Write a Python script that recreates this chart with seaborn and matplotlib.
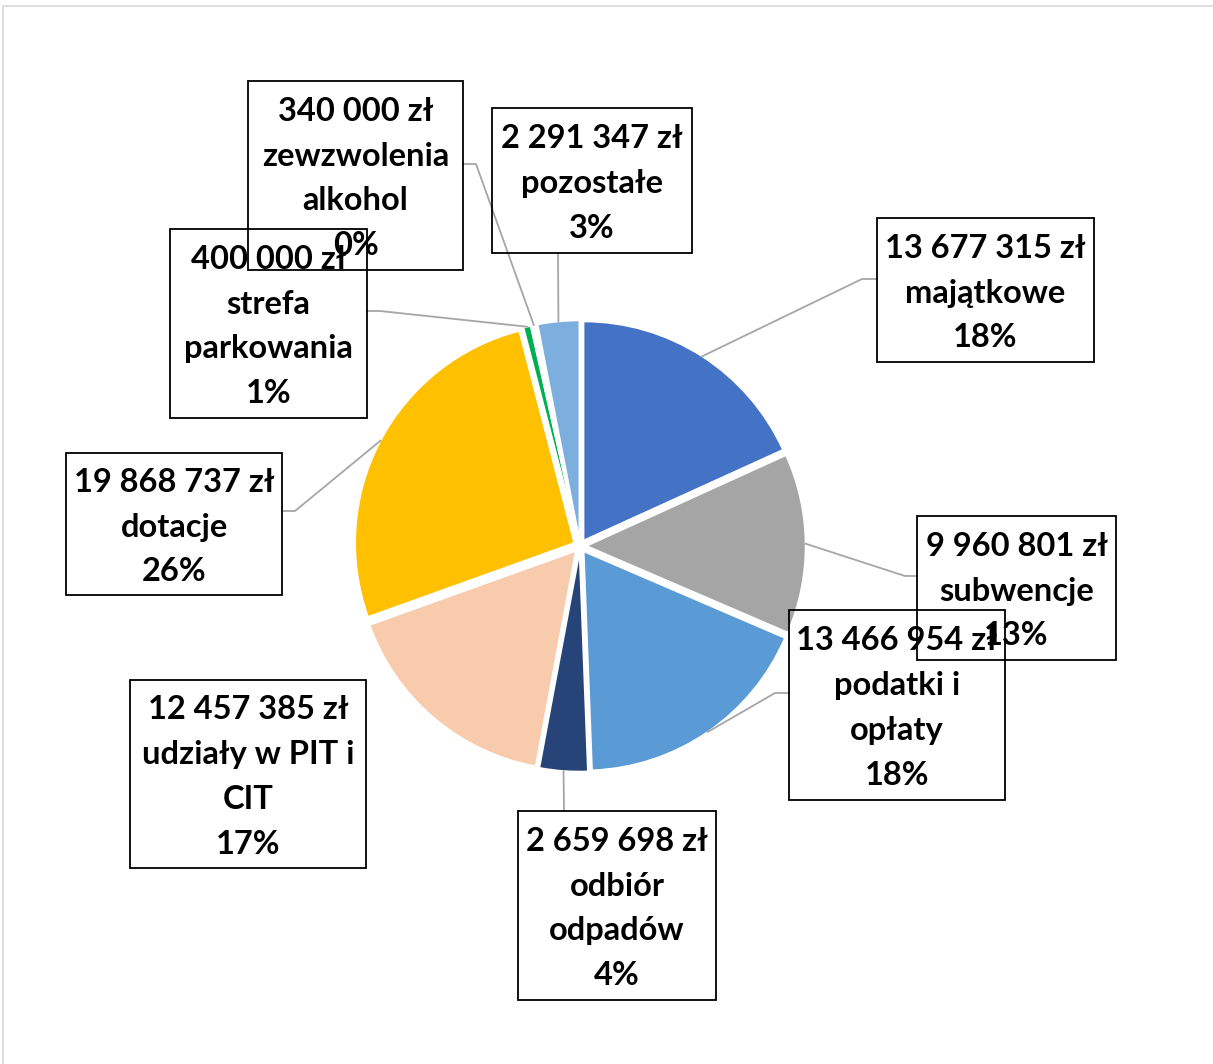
import numpy as np
import matplotlib
matplotlib.use("Agg")
import matplotlib.pyplot as plt
from matplotlib.patches import Rectangle
import seaborn as sns

# data (clockwise from 12 o'clock)
categories = ["majątkowe", "subwencje", "podatki i\nopłaty", "odbiór\nodpadów",
              "udziały w PIT i\nCIT", "dotacje", "strefa\nparkowania",
              "zewzwolenia\nalkohol", "pozostałe"]
values = [13677315, 9960801, 13466954, 2659698, 12457385, 19868737, 400000, 340000, 2291347]
colors = ["#4472C4", "#A5A5A5", "#5B9BD5", "#264478", "#F8CBAD", "#FFC000",
          "#00B050", "#FFFFFF", "#7CAFDD"]

# label layout in pixels: box (x0, y0, x1, y1), leader elbow points
boxes = [(877, 218, 1094, 362), (917, 516, 1116, 660), (789, 610, 1005, 800),
         (518, 811, 716, 1000), (130, 680, 366, 868), (66, 453, 282, 595),
         (170, 229, 367, 418), (248, 81, 463, 270), (492, 108, 692, 253)]
elbows = [[(862, 279), (877, 279)], [(905, 576), (917, 576)], [(775, 693), (789, 693)],
          [(564, 811)], [], [(295, 511), (282, 511)], [(380, 311), (367, 311)],
          [(476, 164), (463, 164)], [(558, 253)]]

W, H = 1213, 1064
cx, cy, R, EXP = 580, 546, 219, 0.03

sns.set_theme(style="white")
plt.rcParams["font.family"] = ["Lato", "DejaVu Sans"]

def Y(y):
    return H - y

fig = plt.figure(figsize=(W / 100, H / 100), dpi=100)
ax = fig.add_axes([0, 0, 1, 1])

total = sum(values)
# explode is in data units, so scale it by the radius
wedges, _ = ax.pie(values, colors=colors, startangle=90, counterclock=False,
                   center=(cx, Y(cy)), radius=R, explode=[EXP * R] * len(values),
                   wedgeprops=dict(edgecolor="white", linewidth=1.2))

ax.set_xlim(0, W)
ax.set_ylim(0, H)
ax.set_aspect("equal")
ax.axis("off")

# outer chart border (only top and left visible)
ax.plot([3, W], [Y(6), Y(6)], color="#D9D9D9", lw=1.2)
ax.plot([3, 3], [Y(6), 0], color="#D9D9D9", lw=1.2)

for i, w in enumerate(wedges):
    mid = np.deg2rad((w.theta1 + w.theta2) / 2)
    r = R * (1 + EXP)
    ax_, ay_ = cx + r * np.cos(mid), Y(cy) + r * np.sin(mid)
    if elbows[i]:
        xs = [ax_] + [p[0] for p in elbows[i]]
        ys = [ay_] + [Y(p[1]) for p in elbows[i]]
        ax.plot(xs, ys, color="#A6A6A6", lw=1.3, zorder=1)

    x0, y0, x1, y1 = boxes[i]
    ax.add_patch(Rectangle((x0, Y(y1)), x1 - x0, y1 - y0, fill=False,
                           edgecolor="black", lw=1.3, zorder=3))
    amount = f"{values[i]:,}".replace(",", " ") + " zł"
    pct = f"{values[i] / total * 100:.0f}%"
    label = f"{amount}\n{categories[i]}\n{pct}"
    ax.text((x0 + x1) / 2, Y((y0 + y1) / 2 + 3), label, ha="center", va="center",
            multialignment="center", fontsize=23.5, fontweight="bold",
            color="black", linespacing=1.66, zorder=4)

fig.savefig("out.png", dpi=100)
